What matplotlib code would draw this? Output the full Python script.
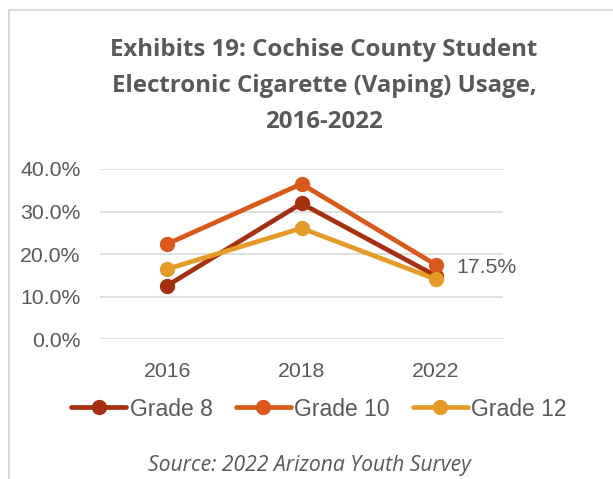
import matplotlib
matplotlib.use("Agg")
import matplotlib.pyplot as plt
from matplotlib.lines import Line2D
from matplotlib.ticker import FuncFormatter

years = ["2016", "2018", "2022"]
grade8 = [0.126, 0.319, 0.149]
grade10 = [0.224, 0.365, 0.175]
grade12 = [0.165, 0.261, 0.141]
series_names = ["Grade 8", "Grade 10", "Grade 12"]
colors = ["#A5300F", "#D9591B", "#E49B28"]

text_color = "#595959"
W, H = 613, 479
fig = plt.figure(figsize=(W / 100, H / 100), dpi=100)

# chart frame (top and left edges)
fig.add_artist(Line2D([9 / W, 1.0], [1 - 9.5 / H, 1 - 9.5 / H], color="#D9D9D9", lw=1.5,
                      transform=fig.transFigure))
fig.add_artist(Line2D([9 / W, 9 / W], [0, 1 - 9.5 / H], color="#D9D9D9", lw=1.5,
                      transform=fig.transFigure))

fig.text(324 / W, 1 - 86 / H,
         "Exhibits 19: Cochise County Student\nElectronic Cigarette (Vaping) Usage,\n2016-2022",
         ha="center", va="center", fontsize=17.3, fontweight="bold", family="Open Sans",
         color=text_color, linespacing=1.66)

ax = fig.add_axes([100 / W, 1 - 339.3 / H, 403 / W, (339.3 - 169) / H])
x = [0.5, 1.5, 2.5]
for vals, name, c in zip([grade8, grade10, grade12], series_names, colors):
    ax.plot(x, vals, color=c, lw=3.4, marker="o", ms=10, label=name, solid_capstyle="round",
            zorder=3)

ax.set_xlim(0, 3)
ax.set_ylim(0, 0.4)
ax.set_yticks([0, 0.1, 0.2, 0.3, 0.4])
ax.yaxis.set_major_formatter(FuncFormatter(lambda v, p: f"{v * 100:.1f}%"))
ax.set_xticks(x)
ax.set_xticklabels(years)
ax.grid(axis="y", color="#D9D9D9", lw=1.2)
ax.set_axisbelow(True)
for s in ax.spines.values():
    s.set_visible(False)
ax.tick_params(length=0, labelsize=15.3, labelcolor=text_color)
ax.tick_params(axis="y", pad=14)
ax.tick_params(axis="x", pad=16)
for lab in ax.get_xticklabels() + ax.get_yticklabels():
    lab.set_family("Liberation Sans")

ax.annotate(f"{grade10[2] * 100:.1f}%", (x[2], grade10[2]), xytext=(15, -2),
            textcoords="offset points", ha="left", va="center", fontsize=15.3,
            family="Liberation Sans", color=text_color)

leg = fig.legend(loc="center", bbox_to_anchor=(319 / W, 1 - 409 / H), ncol=3, frameon=False,
                 prop={"family": "Liberation Sans", "size": 16.5}, handlelength=2.4,
                 handletextpad=0.15, columnspacing=1.0, labelcolor=text_color)

fig.text(309 / W, 1 - 465 / H, "Source: 2022 Arizona Youth Survey", ha="center", va="center",
         fontsize=15.2, style="italic", family="Open Sans", color=text_color)

fig.savefig("out.png", dpi=100)
